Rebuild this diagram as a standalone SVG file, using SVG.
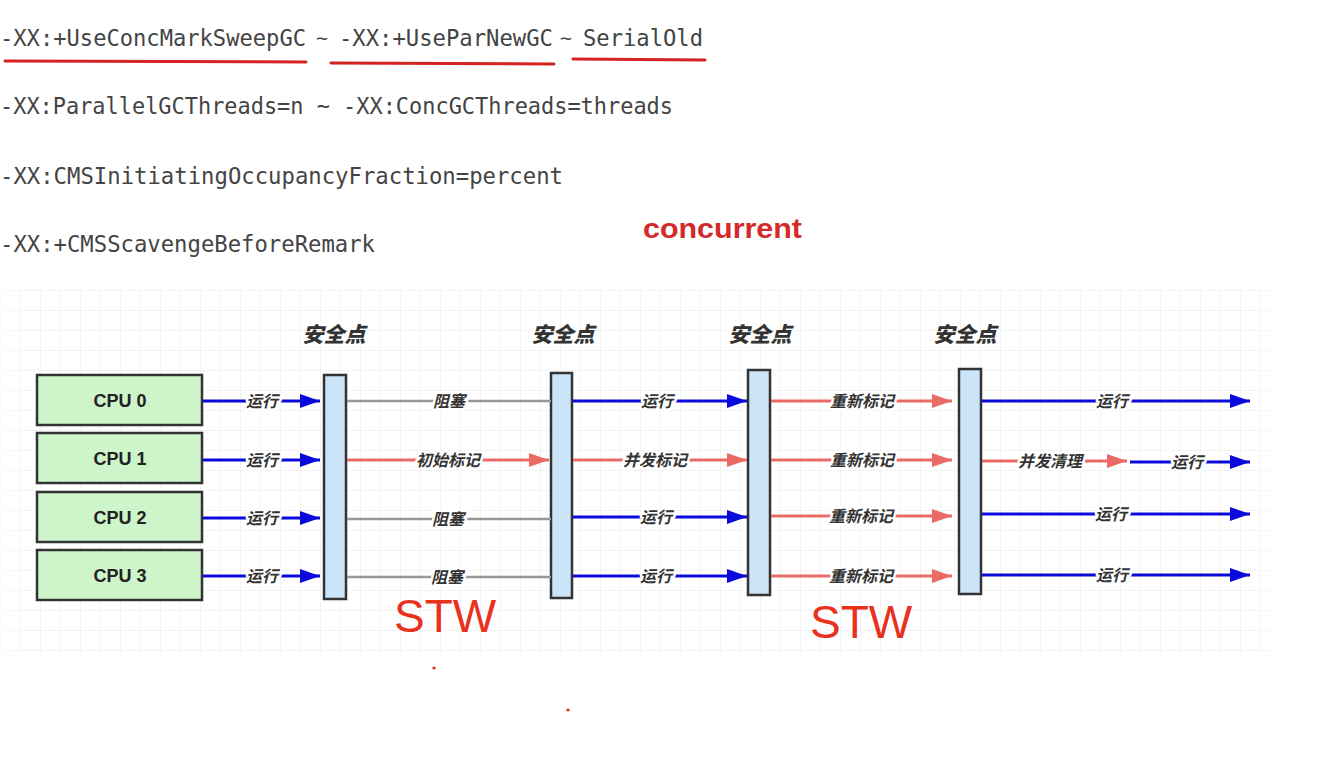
<svg xmlns="http://www.w3.org/2000/svg" width="1320" height="758" viewBox="0 0 1320 758">
<defs>
<pattern id="grid" width="20" height="20" patternUnits="userSpaceOnUse" x="0" y="290">
<path d="M20 0H0V20" fill="none" stroke="#e8e8e8" stroke-width="1"/>
</pattern>
<linearGradient id="fadeH" x1="0" y1="0" x2="1" y2="0">
<stop offset="0" stop-color="#fff" stop-opacity="0.6"/>
<stop offset="0.02" stop-color="#fff" stop-opacity="0"/>
<stop offset="0.97" stop-color="#fff" stop-opacity="0"/>
<stop offset="1" stop-color="#fff" stop-opacity="1"/>
</linearGradient>
<marker id="ab" markerUnits="userSpaceOnUse" markerWidth="20" markerHeight="14" refX="20" refY="7" orient="auto"><path d="M0 0L20 7L0 14z" fill="#0a0adc"/></marker>
<marker id="ar" markerUnits="userSpaceOnUse" markerWidth="20" markerHeight="14" refX="20" refY="7" orient="auto"><path d="M0 0L20 7L0 14z" fill="#ea6b66"/></marker>
<style>
.mono{font-family:"DejaVu Sans Mono","Liberation Mono",monospace;font-size:23px;fill:#444}
.tl{font-family:"DejaVu Sans Mono","Liberation Mono",monospace;font-size:20px;fill:#444}
.ul{stroke:#d42222;stroke-width:3;stroke-linecap:round}
.cpu{fill:#cdf5c9;stroke:#333;stroke-width:2.5}
.cput{font-family:"Liberation Sans",Arial,sans-serif;font-weight:bold;font-size:18px;fill:#222;text-anchor:middle}
.bar{fill:#cce4f7;stroke:#333;stroke-width:2.5}
.sp{font-family:"Noto Sans CJK SC",sans-serif;font-weight:900;font-style:italic;font-size:21px;fill:#333;text-anchor:middle}
.lb{font-family:"Noto Sans CJK SC",sans-serif;font-weight:bold;font-style:italic;font-size:16px;fill:#333;text-anchor:middle;stroke:#fff;stroke-width:5;paint-order:stroke;stroke-linejoin:round}
.blue{stroke:#0a0adc;stroke-width:3;fill:none;marker-end:url(#ab)}
.red{stroke:#ea6b66;stroke-width:3;fill:none;marker-end:url(#ar)}
.gray{stroke:#999;stroke-width:2.5;fill:none}
.stw{font-family:"Liberation Sans",Arial,sans-serif;font-size:46px;fill:#e8321e}
</style>
</defs>
<rect width="1320" height="758" fill="#fff"/>
<g id="options">
<text class="mono" x="0" y="46" textLength="306" lengthAdjust="spacingAndGlyphs">-XX:+UseConcMarkSweepGC</text>
<text class="tl" x="316" y="45">~</text>
<text class="mono" x="339" y="46" textLength="214" lengthAdjust="spacingAndGlyphs">-XX:+UseParNewGC</text>
<text class="tl" x="560" y="45">~</text>
<text class="mono" x="583" y="46" textLength="120" lengthAdjust="spacingAndGlyphs">SerialOld</text>
<line class="ul" x1="5" y1="61" x2="306" y2="62"/>
<line class="ul" x1="331" y1="63" x2="554" y2="64"/>
<line class="ul" x1="573" y1="59" x2="705" y2="60"/>
<text class="mono" x="0" y="114" textLength="673" lengthAdjust="spacingAndGlyphs">-XX:ParallelGCThreads=n ~ -XX:ConcGCThreads=threads</text>
<text class="mono" x="0" y="184" textLength="563" lengthAdjust="spacingAndGlyphs">-XX:CMSInitiatingOccupancyFraction=percent</text>
<text class="mono" x="0" y="252" textLength="375" lengthAdjust="spacingAndGlyphs">-XX:+CMSScavengeBeforeRemark</text>
<text x="643" y="238" font-family="Liberation Sans,Arial,sans-serif" font-weight="bold" font-size="28" fill="#d42a2a" textLength="159" lengthAdjust="spacingAndGlyphs">concurrent</text>
</g>
<rect x="0" y="290" width="1290" height="362" fill="url(#grid)"/>
<rect x="0" y="290" width="1290" height="362" fill="url(#fadeH)"/>
<g id="cpu0"><rect class="cpu" x="37" y="375" width="165" height="50"/><text class="cput" x="120" y="407">CPU 0</text></g>
<g id="cpu1"><rect class="cpu" x="37" y="433" width="165" height="50"/><text class="cput" x="120" y="465">CPU 1</text></g>
<g id="cpu2"><rect class="cpu" x="37" y="492" width="165" height="50"/><text class="cput" x="120" y="524">CPU 2</text></g>
<g id="cpu3"><rect class="cpu" x="37" y="550" width="165" height="50"/><text class="cput" x="120" y="582">CPU 3</text></g>
<g id="sp1"><text class="sp" x="334" y="342">安全点</text><rect class="bar" x="324" y="375" width="22" height="224"/></g>
<g id="sp2"><text class="sp" x="563" y="342">安全点</text><rect class="bar" x="551" y="373" width="21" height="225"/></g>
<g id="sp3"><text class="sp" x="760" y="342">安全点</text><rect class="bar" x="748" y="370" width="22" height="225"/></g>
<g id="sp4"><text class="sp" x="965" y="342">安全点</text><rect class="bar" x="959" y="369" width="22" height="225"/></g>
<g id="connectors">
<path class="blue" d="M203 401H320"/>
<path class="blue" d="M203 460H320"/>
<path class="blue" d="M203 518H320"/>
<path class="blue" d="M203 576H320"/>
<path class="gray" d="M347 401H551"/>
<path class="red" d="M347 460H549"/>
<path class="gray" d="M347 519H551"/>
<path class="gray" d="M347 577H551"/>
<path class="blue" d="M573 401H747"/>
<path class="red" d="M573 460H747"/>
<path class="blue" d="M573 517H747"/>
<path class="blue" d="M573 576H747"/>
<path class="red" d="M771 401H952"/>
<path class="red" d="M771 460H952"/>
<path class="red" d="M771 516H952"/>
<path class="red" d="M771 576H952"/>
<path class="blue" d="M982 401H1250"/>
<path class="red" d="M982 461H1127"/>
<path class="blue" d="M1130 462H1250"/>
<path class="blue" d="M982 514H1250"/>
<path class="blue" d="M982 575H1250"/>
<text class="lb" x="262" y="407">运行</text>
<text class="lb" x="262" y="466">运行</text>
<text class="lb" x="262" y="524">运行</text>
<text class="lb" x="262" y="582">运行</text>
<text class="lb" x="449" y="407">阻塞</text>
<text class="lb" x="448" y="466">初始标记</text>
<text class="lb" x="448" y="525">阻塞</text>
<text class="lb" x="447" y="583">阻塞</text>
<text class="lb" x="657" y="407">运行</text>
<text class="lb" x="655" y="466">并发标记</text>
<text class="lb" x="656" y="523">运行</text>
<text class="lb" x="656" y="582">运行</text>
<text class="lb" x="862" y="407">重新标记</text>
<text class="lb" x="862" y="466">重新标记</text>
<text class="lb" x="861" y="522">重新标记</text>
<text class="lb" x="861" y="582">重新标记</text>
<text class="lb" x="1112" y="407">运行</text>
<text class="lb" x="1050" y="467">并发清理</text>
<text class="lb" x="1187" y="468">运行</text>
<text class="lb" x="1111" y="520">运行</text>
<text class="lb" x="1112" y="581">运行</text>
</g>
<text class="stw" x="394" y="632">STW</text>
<text class="stw" x="810" y="638">STW</text>
<circle cx="434" cy="668" r="1.6" fill="#d42a2a"/>
<circle cx="568" cy="710" r="1.6" fill="#d42a2a"/>
</svg>
